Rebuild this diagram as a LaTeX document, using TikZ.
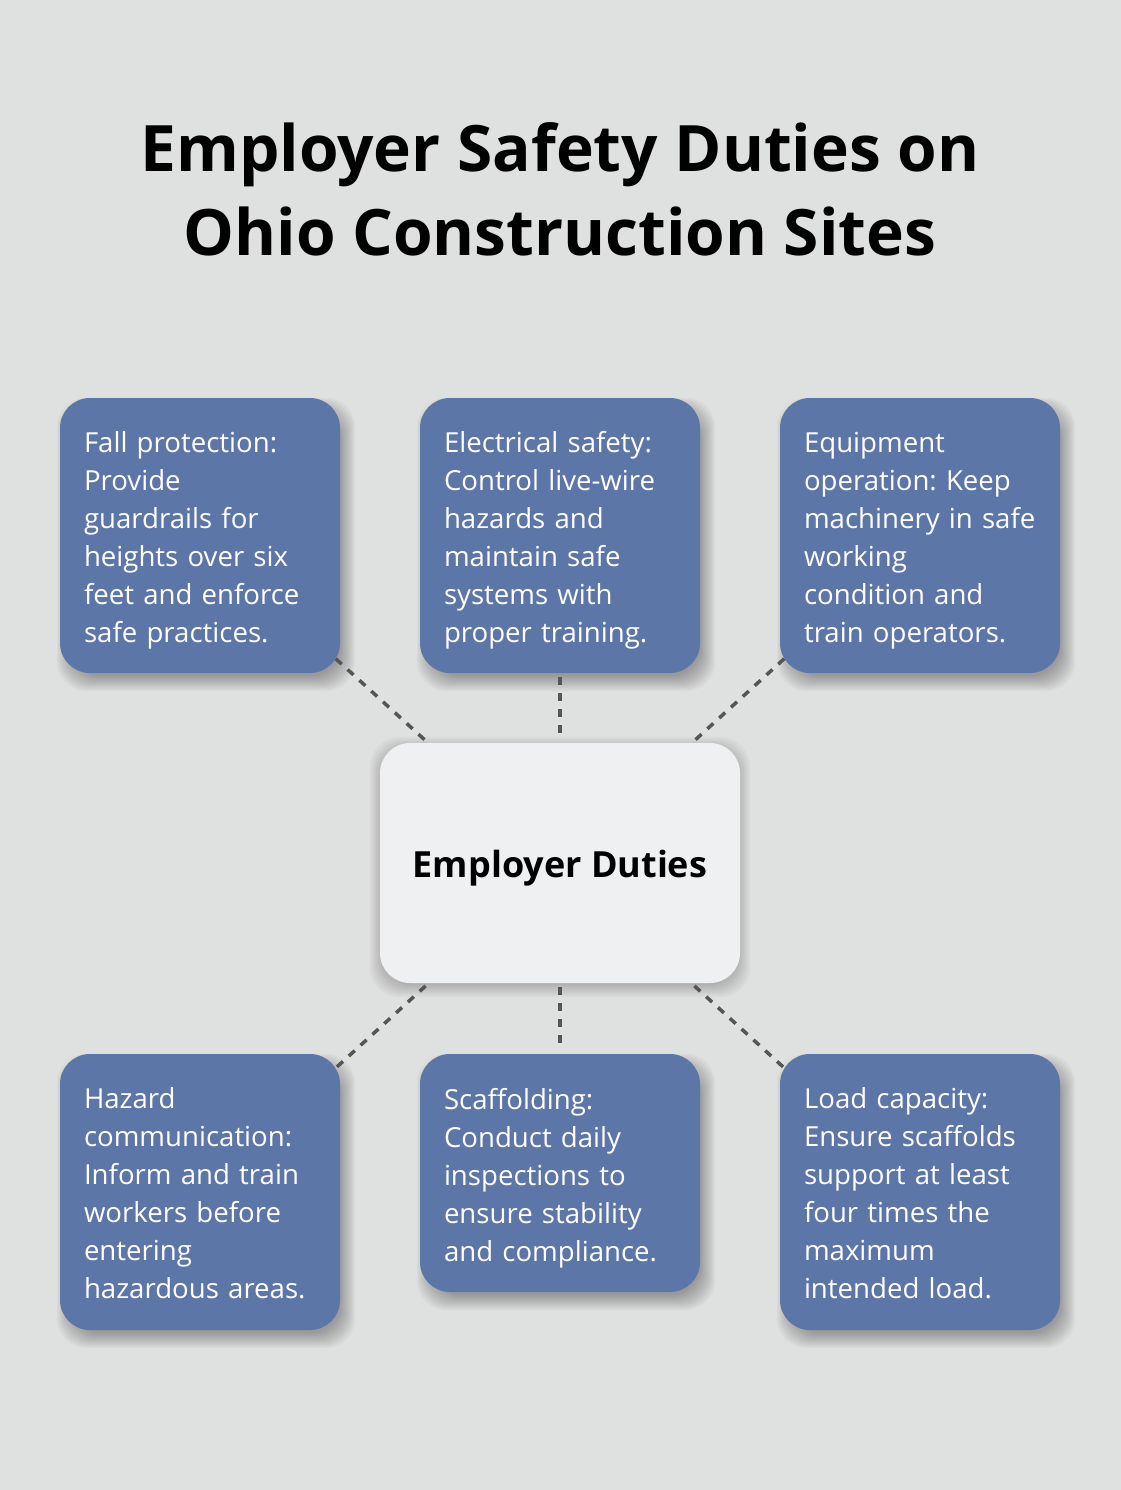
\documentclass[tikz,border=0pt]{standalone}
\usepackage{fontspec}
\setmainfont{Open Sans}
\usetikzlibrary{calc}
\pgfdeclarelayer{shadowlayer}
\pgfsetlayers{shadowlayer,main}
\definecolor{bgc}{RGB}{223,225,224}
\definecolor{boxblue}{RGB}{92,118,167}
\definecolor{centerc}{RGB}{239,240,242}
\definecolor{dashc}{RGB}{85,85,85}
\tikzset{
  duty/.style={fill=boxblue, rounded corners=30pt, minimum width=280pt, inner sep=0pt},
  dutytext/.style={text=white, align=left, text width=232pt, inner sep=0pt, yshift=-5pt,
    font=\fontsize{27.6}{38}\selectfont},
  hub/.style={fill=centerc, rounded corners=30pt, minimum width=360pt, minimum height=240pt,
    text height=37pt, text depth=9pt,
    font=\fontsize{36}{44}\bfseries\selectfont, text=black},
  link/.style={draw=dashc, line width=3.5pt, dash pattern=on 8pt off 8pt, shorten <=4pt, shorten >=4pt},
  titletext/.style={font=\fontsize{64}{84}\bfseries\selectfont, align=center, text=black},
  shadowpiece/.style={fill=black, opacity=0.03, rounded corners=30pt}
}
\newcommand\shadowof[5]{% node, dx, dy, from, step-second
  \foreach \r in {#4,#5,...,10}
    \fill[shadowpiece] ($(#1.north west)+(#2-\r,#3-\r)$) rectangle ($(#1.south east)+(#2+\r,#3+\r)$);}
\frenchspacing
\begin{document}
\begin{tikzpicture}[x=1pt,y=-1pt]
\useasboundingbox (0,0) rectangle (1120,1490);
\begin{pgfonlayer}{shadowlayer}
\fill[bgc] (-30,-30) rectangle (1150,1520);
\end{pgfonlayer}

\node[titletext] (title) at (560,189) {Employer Safety Duties on\\Ohio Construction Sites};

\node[hub] (hub) at (560,863) {Employer Duties};

\node[duty, minimum height=275pt] (fall) at (200,535.5) {};
\node[dutytext] (fallt) at (fall.center) {Fall protection:\\Provide\\guardrails for\\heights over six\\feet and enforce\\safe practices.};
\node[duty, minimum height=275pt] (elec) at (560,535.5) {};
\node[dutytext] (elect) at (elec.center) {Electrical safety:\\Control live-wire\\hazards and\\maintain safe\\systems with\\proper training.};
\node[duty, minimum height=275pt] (equip) at (920,535.5) {};
\node[dutytext] (equipt) at (equip.center) {Equipment\\operation: Keep\\machinery in safe\\working\\condition and\\train operators.};
\node[duty, minimum height=276pt] (hazard) at (200,1192) {};
\node[dutytext, yshift=3.5pt] (hazardt) at (hazard.center) {Hazard\\communication:\\Inform and train\\workers before\\entering\\hazardous areas.};
\node[duty, minimum height=238pt] (scaff) at (560,1173) {};
\node[dutytext] (scafft) at (scaff.center) {Scaffolding:\\Conduct daily\\inspections to\\ensure stability\\and compliance.};
\node[duty, minimum height=276pt] (load) at (920,1192) {};
\node[dutytext, yshift=3.5pt] (loadt) at (load.center) {Load capacity:\\Ensure scaffolds\\support at least\\four times the\\maximum\\intended load.};

\begin{pgfonlayer}{shadowlayer}
  \shadowof{fall}{6}{9}{-6}{-4.5}
  \shadowof{elec}{6}{9}{-6}{-4.5}
  \shadowof{equip}{6}{9}{-6}{-4.5}
  \shadowof{hazard}{6}{9}{-6}{-4.5}
  \shadowof{scaff}{6}{9}{-6}{-4.5}
  \shadowof{load}{6}{9}{-6}{-4.5}
  \shadowof{hub}{0}{4}{-6}{-4}
\end{pgfonlayer}

\draw[link, shorten <=-6pt] (fall) -- (hub);
\draw[link] (elec) -- (hub);
\draw[link, shorten <=-6pt] (equip) -- (hub);
\draw[link, shorten >=-6pt] (hub) -- (hazard);
\draw[link] (hub) -- (scaff);
\draw[link, shorten >=-6pt] (hub) -- (load);
\end{tikzpicture}
\end{document}
